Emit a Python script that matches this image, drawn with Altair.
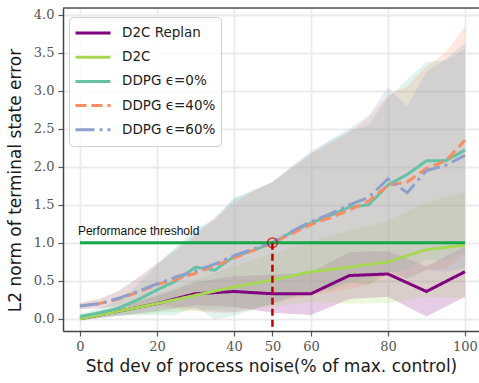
import altair as alt
import pandas as pd

# Noise levels (% of max control)
noise_d2c = [0, 10, 20, 30, 40, 50, 60, 70, 80, 90, 100]
noise_ddpg = [0, 5, 10, 15, 20, 25, 30, 35, 40, 45, 50,
              55, 60, 65, 70, 75, 80, 85, 90, 95, 100]

# Mean and std of L2 terminal state error per method
d2c_replan_mean = [0.0, 0.1, 0.2, 0.33, 0.36, 0.33, 0.33, 0.57, 0.59, 0.36, 0.62]
d2c_replan_std = [0.02, 0.06, 0.1, 0.15, 0.2, 0.25, 0.28, 0.31, 0.3, 0.33, 0.33]
d2c_mean = [0.0, 0.1, 0.2, 0.31, 0.42, 0.51, 0.62, 0.68, 0.75, 0.91, 0.97]
d2c_std = [0.02, 0.06, 0.12, 0.2, 0.28, 0.35, 0.4, 0.48, 0.54, 0.62, 0.7]

ddpg0_mean = [0.03, 0.08, 0.14, 0.25, 0.38, 0.5, 0.68, 0.64, 0.82, 0.9, 1.0,
              1.14, 1.26, 1.36, 1.47, 1.5, 1.76, 1.9, 2.08, 2.08, 2.22]
ddpg0_std = [0.04, 0.06, 0.1, 0.2, 0.33, 0.45, 0.52, 0.65, 0.78, 0.78, 0.8,
             0.85, 0.92, 0.98, 1.0, 1.05, 1.15, 1.25, 1.3, 1.32, 1.33]
ddpg40_mean = [0.17, 0.2, 0.26, 0.35, 0.45, 0.52, 0.6, 0.7, 0.8, 0.9, 1.0,
               1.12, 1.24, 1.33, 1.43, 1.55, 1.76, 1.8, 1.98, 2.08, 2.35]
ddpg40_std = [0.04, 0.06, 0.1, 0.18, 0.27, 0.38, 0.5, 0.62, 0.72, 0.78, 0.8,
              0.86, 0.93, 0.98, 1.03, 1.1, 1.18, 1.26, 1.34, 1.42, 1.5]
ddpg60_mean = [0.17, 0.2, 0.27, 0.36, 0.46, 0.55, 0.63, 0.72, 0.83, 0.92, 1.0,
               1.15, 1.28, 1.38, 1.5, 1.6, 1.84, 1.66, 1.95, 2.02, 2.15]
ddpg60_std = [0.04, 0.06, 0.1, 0.18, 0.27, 0.38, 0.5, 0.62, 0.74, 0.78, 0.8,
              0.86, 0.93, 0.98, 1.0, 1.08, 1.2, 1.14, 1.3, 1.4, 1.48]

series_names = ["D2C Replan", "D2C", "DDPG ϵ=0%", "DDPG ϵ=40%", "DDPG ϵ=60%"]
series_colors = ["#800080", "#a6d854", "#66c2a5", "#fc8d62", "#8da0cb"]
series_dashes = [[1, 0], [1, 0], [1, 0], [11, 5], [19, 5, 3, 5]]

threshold_value = 1.0
threshold_noise = 50
threshold_label = "Performance threshold"

x_ticks = [0, 20, 40, 50, 60, 80, 100]
y_ticks = [0.0, 0.5, 1.0, 1.5, 2.0, 2.5, 3.0, 3.5, 4.0]

W, H = 416, 323

rows = []
for name, xs, mu, sd in [
    (series_names[0], noise_d2c, d2c_replan_mean, d2c_replan_std),
    (series_names[1], noise_d2c, d2c_mean, d2c_std),
    (series_names[2], noise_ddpg, ddpg0_mean, ddpg0_std),
    (series_names[3], noise_ddpg, ddpg40_mean, ddpg40_std),
    (series_names[4], noise_ddpg, ddpg60_mean, ddpg60_std),
]:
    for x, m, s in zip(xs, mu, sd):
        rows.append({"noise": x, "mean": m, "lo": m - s, "hi": m + s,
                     "series": name, "order": series_names.index(name)})
df = pd.DataFrame(rows)

x_scale = alt.Scale(domain=[-4.4, 103.65], nice=False, zero=False)
y_scale = alt.Scale(domain=[-0.16, 4.09], nice=False, zero=False)
color_scale = alt.Scale(domain=series_names, range=series_colors)
dash_scale = alt.Scale(domain=series_names, range=series_dashes)

x_axis = alt.Axis(
    values=x_ticks, title="Std dev of process noise(% of max. control)",
    gridOpacity={"condition": {"test": "datum.value === 50", "value": 0}, "value": 1},
)
y_axis = alt.Axis(
    values=y_ticks, format=".1f", title="L2 norm of terminal state error",
    titleX=-43, titleY=172, titleAngle=-90,
    titleBaseline="alphabetic", titleAlign="center",
)

X = alt.X("noise:Q", scale=x_scale, axis=x_axis)

base = alt.Chart(df)

# mean ± std bands
bands = base.mark_area(opacity=0.2, interpolate="linear").encode(
    x=X,
    y=alt.Y("lo:Q", scale=y_scale, axis=y_axis),
    y2="hi:Q",
    color=alt.Color("series:N", scale=color_scale),
    order="order:Q",
)

# mean curves
lines = base.mark_line(strokeWidth=3, strokeCap="butt").encode(
    x=X,
    y=alt.Y("mean:Q", scale=y_scale, axis=y_axis),
    color=alt.Color("series:N", scale=color_scale),
    strokeDash=alt.StrokeDash("series:N", scale=dash_scale),
    order="order:Q",
)

thr_df = pd.DataFrame({"x0": [noise_d2c[0]], "x1": [noise_d2c[-1]],
                       "y": [threshold_value], "xc": [threshold_noise],
                       "label": [threshold_label]})
thr = alt.Chart(thr_df)

threshold_line = thr.mark_rule(color="#15a84a", strokeWidth=3).encode(
    x=alt.X("x0:Q", scale=x_scale, axis=x_axis), x2="x1:Q",
    y=alt.Y("y:Q", scale=y_scale, axis=y_axis)
)
threshold_text = thr.mark_text(
    align="left", baseline="alphabetic", dx=-2, dy=-8,
    font="Liberation Sans", fontSize=12, color="#111"
).encode(x=alt.X("x0:Q", scale=x_scale, axis=x_axis),
         y=alt.Y("y:Q", scale=y_scale, axis=y_axis), text="label:N")
drop_line = thr.mark_rule(color="#c00000", strokeWidth=2.5, strokeDash=[7, 4]).encode(
    x=alt.X("xc:Q", scale=x_scale, axis=x_axis),
    y=alt.Y("y:Q", scale=y_scale, axis=y_axis), y2=alt.value(H)
)
marker = thr.mark_point(shape="circle", filled=False, size=95, color="#c00000",
                        strokeWidth=1.5).encode(
    x=alt.X("xc:Q", scale=x_scale, axis=x_axis),
    y=alt.Y("y:Q", scale=y_scale, axis=y_axis)
)
top_spine = thr.mark_rule(color="#555", strokeWidth=1.5).encode(
    x=alt.value(0), x2=alt.value(W), y=alt.value(0)
)

chart = alt.layer(
    bands, lines, threshold_line, drop_line, marker, threshold_text, top_spine
).properties(
    width=W, height=H,
    autosize=alt.AutoSizeParams(type="none"),
    padding={"left": 63, "top": 8, "right": 0, "bottom": 52},
).configure_view(stroke=None).configure(background="white").configure_axis(
    labelFont="DejaVu Serif", labelFontSize=13, labelColor="#555",
    labelPadding=4, tickColor="#555", tickSize=5, tickWidth=1.2,
    domainColor="#444", domainWidth=1.5,
    gridColor="#ebebeb", gridWidth=1.8,
    titleFont="DejaVu Sans", titleFontSize=17, titleFontWeight="normal",
    titleColor="#1a1a1a", titlePadding=5,
).configure_legend(
    orient="none", legendX=6, legendY=9, title=None,
    symbolType="stroke", symbolSize=1225, symbolStrokeWidth=3,
    symbolOpacity=1, clipHeight=22, rowPadding=2.2,
    labelFont="DejaVu Sans", labelFontSize=13.5, labelColor="#222",
    labelOffset=10, padding=5,
    fillColor="rgba(255,255,255,0.8)", strokeColor="#d0d0d0",
    cornerRadius=4,
)

chart.save("out.html", embed_options={"renderer": "svg", "actions": False})
